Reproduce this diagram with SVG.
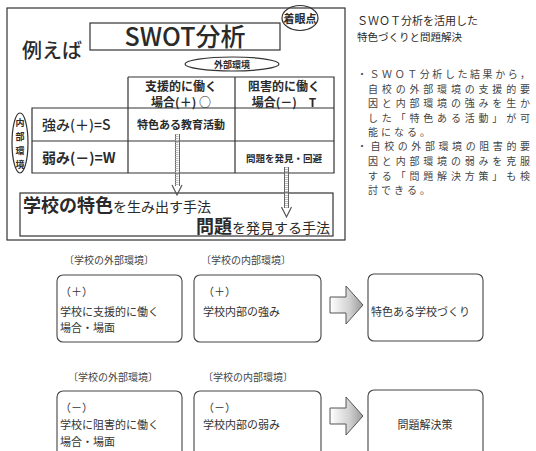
<svg xmlns="http://www.w3.org/2000/svg" width="536" height="451" viewBox="0 0 536 451">
<style>
text{font-family:"Noto Sans CJK JP","Noto Sans",sans-serif;fill:#2a2a2a}
.ln{fill:none;stroke:#333;stroke-width:1.2}
.b{font-weight:bold}
.rt{font-size:10px;fill:#444}
.lb{font-size:10px;fill:#444}
.bx{fill:#fff;stroke:#444;stroke-width:1.1}
.bt{font-size:11px;fill:#333}
</style>
<defs>
<linearGradient id="g" x1="0" y1="0" x2="1" y2="0">
<stop offset="0" stop-color="#fff"/><stop offset="0.6" stop-color="#d0d0d0"/><stop offset="1" stop-color="#999"/>
</linearGradient>
</defs>
<rect width="536" height="451" fill="#fff"/>

<g id="frame">
<rect x="7" y="8" width="338" height="232" class="ln"/>
</g>

<g id="title">
<rect x="90" y="23" width="190" height="27" class="ln"/>
<text x="185" y="46" font-size="25" font-weight="500" text-anchor="middle">SWOT分析</text>
</g>
<g id="focus">
<ellipse cx="300" cy="18" rx="18" ry="12.5" class="ln" stroke-width="1.6"/>
<text x="300" y="22.5" font-size="11" class="b" text-anchor="middle">着眼点</text>
</g>
<g id="example"><text x="22" y="58" font-size="20" font-weight="500" fill="#444">例えば</text></g>

<g id="external">
<ellipse cx="232" cy="64" rx="47" ry="7" class="ln" stroke-width="1"/>
<text x="232" y="68" font-size="9" class="b" text-anchor="middle">外部環境</text>
</g>
<g id="internal">
<ellipse cx="20" cy="143" rx="8" ry="30" class="ln" stroke-width="1"/>
<text font-size="9" class="b" text-anchor="middle"><tspan x="20" y="126">内</tspan><tspan x="20" y="140">部</tspan><tspan x="20" y="154">環</tspan><tspan x="20" y="168">境</tspan></text>
</g>

<g id="table">
<path class="ln" d="M128,77 H334 V173 H32 V108 H334 M32,141 H334 M128,77 V173 M235,77 V173"/>
<text x="181" y="91" font-size="12" class="b" text-anchor="middle" fill="#444">支援的に働く</text>
<text x="181" y="107" font-size="12" class="b" text-anchor="middle" fill="#444">場合(＋) ○</text>
<text x="284" y="91" font-size="12" class="b" text-anchor="middle" fill="#444">阻害的に働く</text>
<text x="284" y="107" font-size="12" class="b" text-anchor="middle" fill="#444">場合(－)　T</text>
<text x="42" y="130" font-size="14" font-weight="500" fill="#333">強み(＋)=S</text>
<text x="42" y="163" font-size="14" class="b" fill="#333">弱み(－)=W</text>
<text x="181" y="129" font-size="11" class="b" text-anchor="middle">特色ある教育活動</text>
<text x="284" y="162" font-size="9.5" class="b" text-anchor="middle">問題を発見・回避</text>
</g>

<g id="method">
<rect x="20" y="193" width="313" height="43" class="ln"/>
<text x="23" y="212" font-size="14" fill="#333"><tspan font-size="18" class="b">学校の特色</tspan>を生み出す手法</text>
<text x="330" y="233" font-size="14" text-anchor="end" fill="#333"><tspan font-size="18" class="b">問題</tspan>を発見する手法</text>
</g>

<g id="connectors">
<path d="M175.5,134 V186 M179.5,134 V186" stroke="#666" stroke-width="1"/>
<path d="M177,134 V186" stroke="#bbb" stroke-width="3" stroke-dasharray="1 1"/>
<path d="M172,185 L177,195 L182,185" fill="none" stroke="#555" stroke-width="1.2"/>
<path d="M284.5,167 V208 M288.5,167 V208" stroke="#666" stroke-width="1"/>
<path d="M286.5,167 V208" stroke="#bbb" stroke-width="3" stroke-dasharray="1 1"/>
<path d="M281.5,207 L286.5,217 L291.5,207" fill="none" stroke="#555" stroke-width="1.2"/>
<path d="M330,297 H346 V286 L363,305 L346,324 V313 H330 Z" fill="url(#g)" stroke="#555" stroke-width="1"/>
<path d="M330,408 H346 V397 L363,416 L346,435 V424 H330 Z" fill="url(#g)" stroke="#555" stroke-width="1"/>
</g>

<g id="note">
<text x="357" y="25" font-size="11" fill="#444" textLength="121" lengthAdjust="spacing">ＳＷＯＴ分析を活用した</text>
<text x="357" y="41" font-size="10.5" fill="#444">特色づくりと問題解決</text>
<text class="rt" x="357" y="78" textLength="173" lengthAdjust="spacing">・ＳＷＯＴ分析した結果から，</text>
<text class="rt" x="368" y="93" textLength="162" lengthAdjust="spacing">自校の外部環境の支援的要</text>
<text class="rt" x="368" y="107" textLength="162" lengthAdjust="spacing">因と内部環境の強みを生か</text>
<text class="rt" x="368" y="122" textLength="162" lengthAdjust="spacing">した「特色ある活動」が可</text>
<text class="rt" x="368" y="136" textLength="62" lengthAdjust="spacing">能になる。</text>
<text class="rt" x="357" y="150" textLength="173" lengthAdjust="spacing">・自校の外部環境の阻害的要</text>
<text class="rt" x="368" y="165" textLength="162" lengthAdjust="spacing">因と内部環境の弱みを克服</text>
<text class="rt" x="368" y="180" textLength="162" lengthAdjust="spacing">する「問題解決方策」も検</text>
<text class="rt" x="368" y="194" textLength="62" lengthAdjust="spacing">討できる。</text>
</g>

<g id="label-ext1"><text class="lb" x="64" y="264">〔学校の外部環境〕</text></g>
<g id="label-int1"><text class="lb" x="201" y="264">〔学校の内部環境〕</text></g>
<g id="plus-ext">
<rect class="bx" x="57" y="275" width="125" height="67" rx="6"/>
<text class="bt" x="60" y="296">（＋）</text>
<text class="bt" x="60" y="316">学校に支援的に働く</text>
<text class="bt" x="60" y="332">場合・場面</text>
</g>
<g id="plus-int">
<rect class="bx" x="194" y="275" width="127" height="67" rx="6"/>
<text class="bt" x="203" y="296">（＋）</text>
<text class="bt" x="203" y="316">学校内部の強み</text>
</g>
<g id="result1">
<rect class="bx" x="368" y="274" width="115" height="67" rx="6"/>
<text class="bt" x="371" y="316">特色ある学校づくり</text>
</g>

<g id="label-ext2"><text class="lb" x="68" y="381">〔学校の外部環境〕</text></g>
<g id="label-int2"><text class="lb" x="203" y="381">〔学校の内部環境〕</text></g>
<g id="minus-ext">
<rect class="bx" x="57" y="391" width="125" height="70" rx="6"/>
<text class="bt" x="60" y="412">（－）</text>
<text class="bt" x="60" y="429">学校に阻害的に働く</text>
<text class="bt" x="60" y="446">場合・場面</text>
</g>
<g id="minus-int">
<rect class="bx" x="194" y="391" width="127" height="70" rx="6"/>
<text class="bt" x="203" y="412">（－）</text>
<text class="bt" x="203" y="429">学校内部の弱み</text>
</g>
<g id="result2">
<rect class="bx" x="368" y="390" width="115" height="70" rx="6"/>
<text class="bt" x="425" y="429" text-anchor="middle">問題解決策</text>
</g>
</svg>
